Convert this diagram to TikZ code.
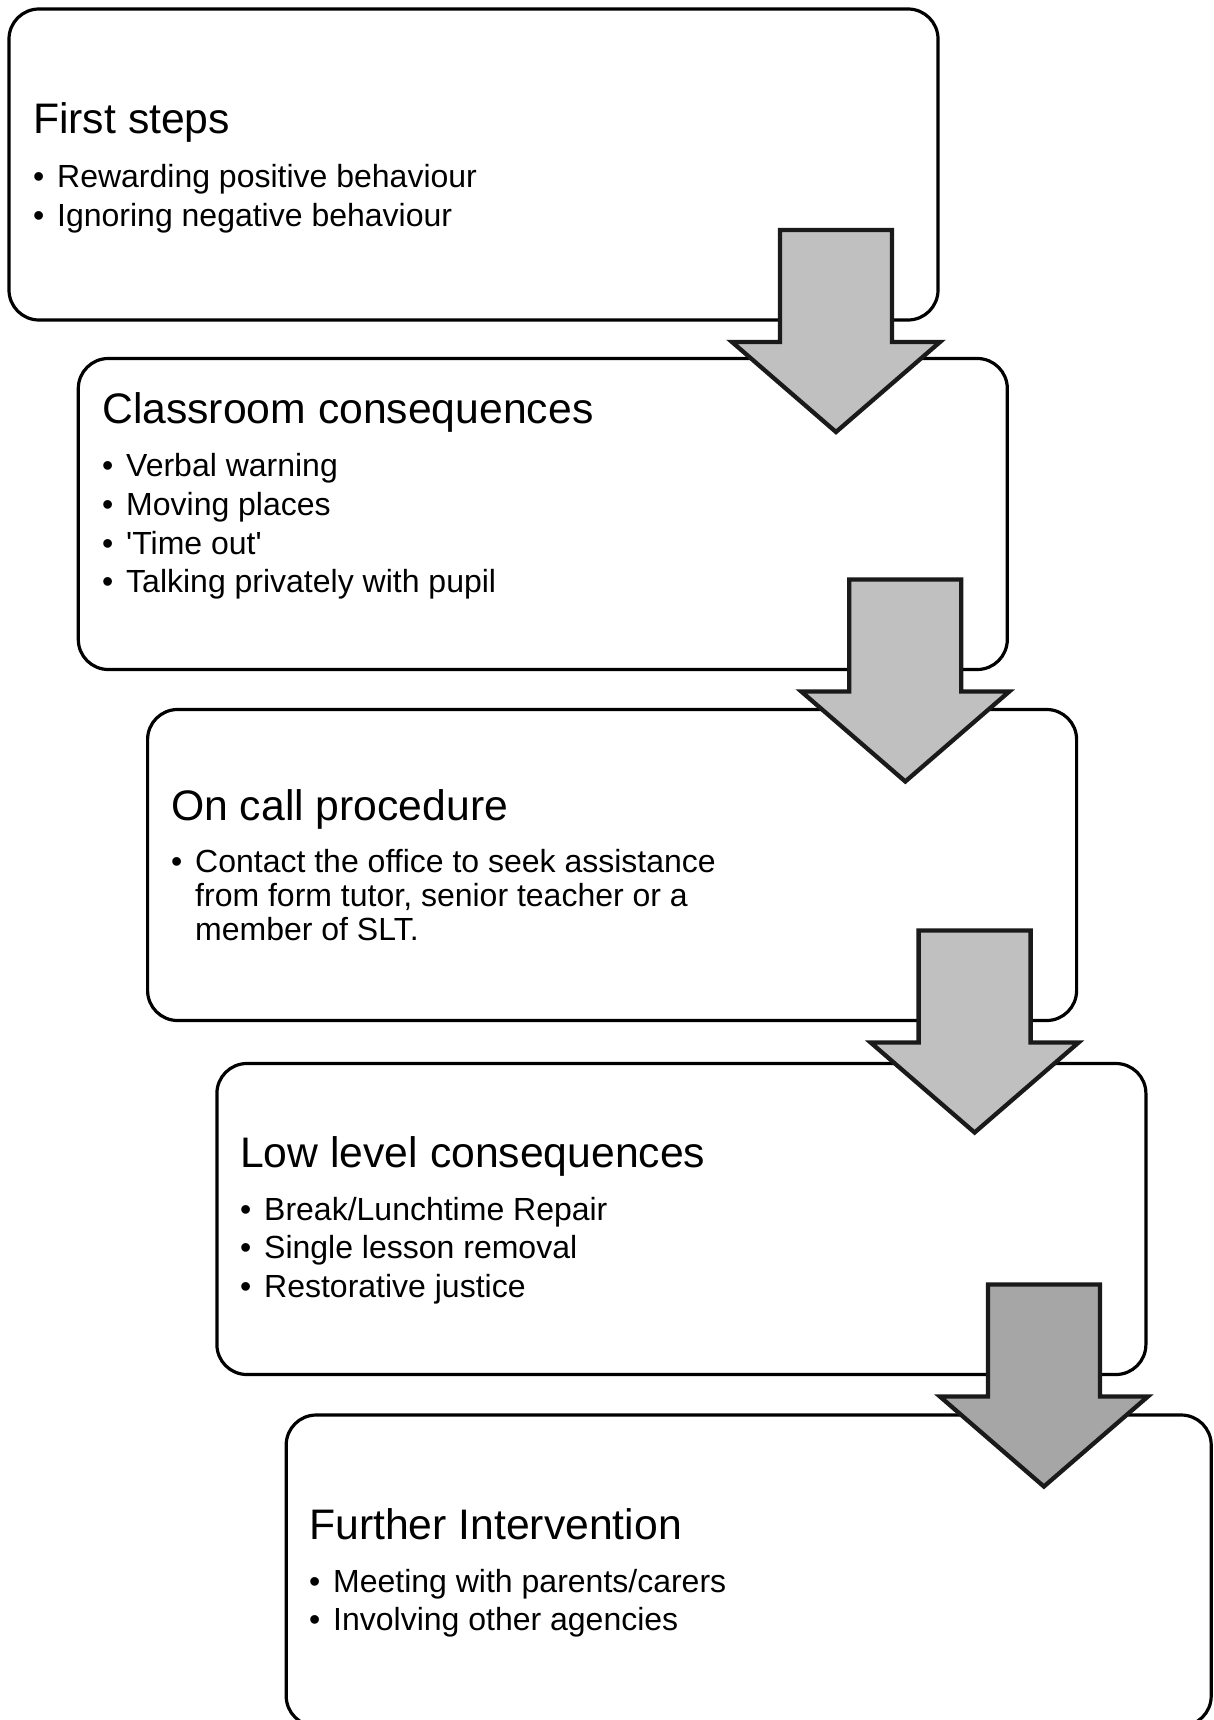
\documentclass[tikz,border=0pt]{standalone}
\usepackage{fontspec}
\setmainfont{Liberation Sans}
\usetikzlibrary{calc}
\definecolor{arrowfill}{HTML}{C0C0C0}
\definecolor{arrowdark}{HTML}{A6A6A6}
\definecolor{arrowline}{HTML}{1A1A1A}
\tikzset{
  stagebox/.style={draw=black, line width=3.2pt, rounded corners=30pt, fill=white,
    minimum width=929pt, minimum height=311pt, inner sep=0pt, outer sep=0pt},
  titletext/.style={anchor=base west, inner sep=0pt, font=\fontsize{42.7}{50}\selectfont},
  itemtext/.style={anchor=base west, inner sep=0pt, font=\fontsize{32}{38}\selectfont},
  flowarrowst/.style={draw=arrowline, line width=4.3pt, line join=miter, miter limit=10},
}
\newcommand{\flowarrow}[3]{% #1 box name, #2 fill, #3 arrow name
  \coordinate (#3) at ($(#1.south east)+(-102,0)$);
  \draw[flowarrowst, fill=#2]
    ($(#3)+(-56,-90)$) -- ($(#3)+(56,-90)$) -- ($(#3)+(56,22)$) -- ($(#3)+(104,22)$)
    -- ($(#3)+(0,112)$) -- ($(#3)+(-104,22)$) -- ($(#3)+(-56,22)$) -- cycle;
}
\begin{document}
\begin{tikzpicture}[x=1pt,y=-1pt]
\useasboundingbox (0,0) rectangle (1213,1720);
\begin{scope}
\clip (0,0) rectangle (1213,1720);
% boxes
\node[stagebox] (b1) at (473.5,164.5) {};
\node[stagebox] (b2) at (542.8,514) {};
\node[stagebox] (b3) at (612.1,865) {};
\node[stagebox] (b4) at (681.4,1219) {};
\node[stagebox, minimum width=925pt] (b5) at (748.7,1570.5) {};

% box 1 text
\node[titletext] (t1) at (33,134) {First steps};
\node[itemtext] (d11) at (33,187.5) {•};
\node[itemtext] (i11) at (57,187.5) {Rewarding positive behaviour};
\node[itemtext] (d12) at (33,226.5) {•};
\node[itemtext] (i12) at (57,226.5) {Ignoring negative behaviour};

% box 2 text
\node[titletext] (t2) at (102,423) {Classroom consequences};
\node[itemtext] (d21) at (102,476.5) {•};
\node[itemtext] (i21) at (126,476.5) {Verbal warning};
\node[itemtext] (d22) at (102,515.5) {•};
\node[itemtext] (i22) at (126,515.5) {Moving places};
\node[itemtext] (d23) at (102,554) {•};
\node[itemtext] (i23) at (126,554) {\textquotesingle Time out\textquotesingle};
\node[itemtext] (d24) at (102,592) {•};
\node[itemtext] (i24) at (126,592) {Talking privately with pupil};

% box 3 text
\node[titletext] (t3) at (171,820) {On call procedure};
\node[itemtext] (d31) at (171,872) {•};
\node[itemtext] (i31) at (195,872) {Contact the office to seek assistance};
\node[itemtext] (i32) at (195,906) {from form tutor, senior teacher or a};
\node[itemtext] (i33) at (195,940) {member of SLT.};

% box 4 text
\node[titletext] (t4) at (240,1167) {Low level consequences};
\node[itemtext] (d41) at (240,1220) {•};
\node[itemtext] (i41) at (264,1220) {Break/Lunchtime Repair};
\node[itemtext] (d42) at (240,1258) {•};
\node[itemtext] (i42) at (264,1258) {Single lesson removal};
\node[itemtext] (d43) at (240,1297) {•};
\node[itemtext] (i43) at (264,1297) {Restorative justice};

% box 5 text
\node[titletext] (t5) at (309,1539) {Further Intervention};
\node[itemtext] (d51) at (309,1592) {•};
\node[itemtext] (i51) at (333,1592) {Meeting with parents/carers};
\node[itemtext] (d52) at (309,1630.5) {•};
\node[itemtext] (i52) at (333,1630.5) {Involving other agencies};

% arrows
\flowarrow{b1}{arrowfill}{a1}
\flowarrow{b2}{arrowfill}{a2}
\flowarrow{b3}{arrowfill}{a3}
\flowarrow{b4}{arrowdark}{a4}
\end{scope}
\end{tikzpicture}
\end{document}
